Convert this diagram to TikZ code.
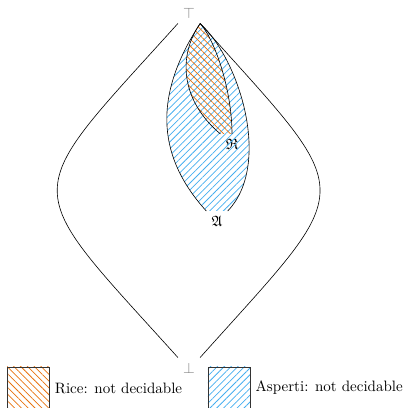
\documentclass[tikz,border=0pt]{standalone}
\usepackage{amssymb}
\usepackage{tikz}
\usetikzlibrary{patterns.meta,positioning}
\definecolor{ricecolor}{HTML}{E8730F}
\definecolor{aspcolor}{HTML}{45AEEF}

\begin{document}
\begin{tikzpicture}[
  x=0.665pt, y=0.665pt,
  bound/.style={text=gray},
  lens/.style={black, line width=0.4pt},
  ricefill/.style={pattern={Lines[angle=-45, distance=3.2pt, line width=0.5pt]},
                   pattern color=ricecolor},
  aspfill/.style={pattern={Lines[angle=45, distance=3.2pt, line width=0.5pt]},
                  pattern color=aspcolor},
  keybox/.style={draw=black!80, line width=0.4pt, minimum size=28pt, inner sep=0pt},
]
  \useasboundingbox (0,0) rectangle (408,407);

  % top and bottom
  \node[bound] (top) at (189,394) {$\top$};
  \node[bound] (bot) at (189,39) {$\bot$};

  % labels
  \node[anchor=north] (A) at (217,196) {$\mathfrak{A}$};
  \node[anchor=north] (R) at (232,273) {$\mathfrak{R}$};

  % hatching
  \fill[aspfill] (top.south east) .. controls (150,307) and (160,247) .. (A.north west)
    -- (A.north east) .. controls (272,242) and (240,347) .. (top.south east);
  \fill[ricefill] (top.south east) .. controls (178,352) and (180,307) .. (R.north west)
    -- (R.north) .. controls (232,317) and (215,367) .. (top.south east);

  % outer lens
  \draw[lens] (top.south west) .. controls (17,205) and (17,228) .. (bot.north west);
  \draw[lens] (top.south east) .. controls (360,205) and (360,228) .. (bot.north east);

  % inner lenses
  \draw[lens] (top.south east) .. controls (150,307) and (160,247) .. (A.north west);
  \draw[lens] (top.south east) .. controls (240,347) and (272,242) .. (A.north east);
  \draw[lens] (top.south east) .. controls (178,352) and (180,307) .. (R.north west);
  \draw[lens] (top.south east) .. controls (215,367) and (232,317) .. (R.north);

  % legend
  \node[keybox, ricefill] (ricebox) at (28.3,19) {};
  \node[right=0pt of ricebox] (ricetxt) {Rice: not decidable};
  \node[keybox, aspfill] (aspbox) at (229,19) {};
  \node[right=0pt of aspbox] (asptxt) {Asperti: not decidable};

\end{tikzpicture}
\end{document}
